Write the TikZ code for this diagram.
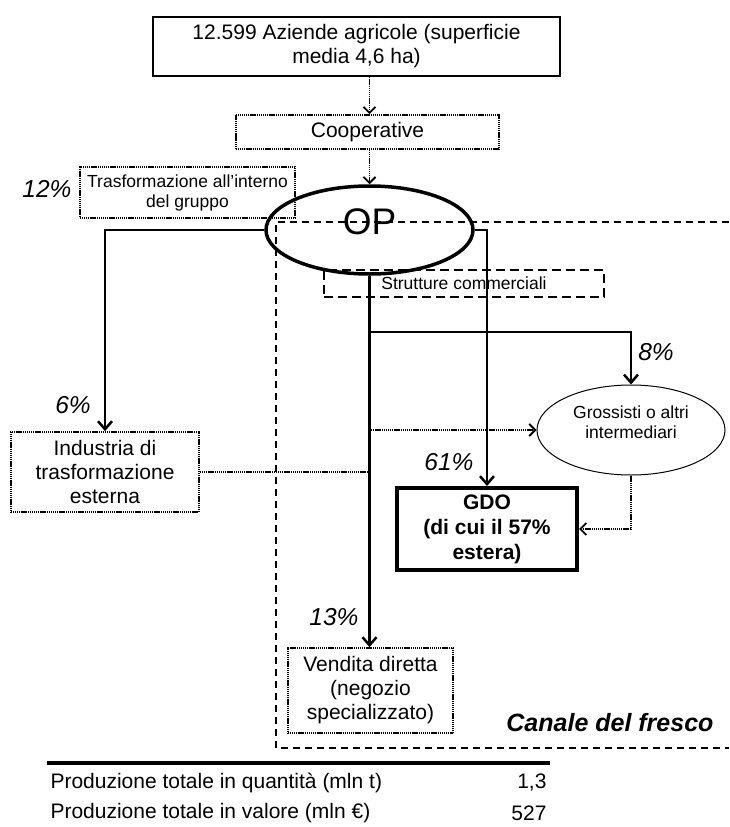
\documentclass[tikz,border=0pt]{standalone}
\usepackage{fontspec}
\setmainfont{Liberation Sans}
\usetikzlibrary{arrows.meta}
\usetikzlibrary{shapes.geometric}

\tikzset{
    txt/.style={font=\fontsize{21}{24}\selectfont, align=center},
    smalltxt/.style={font=\fontsize{17.5}{20}\selectfont, align=center},
    pct/.style={font=\fontsize{24.5}{28}\selectfont\itshape},
    solidbox/.style={draw, line width=1.2pt, inner sep=0pt},
    dotbox/.style={draw, line width=1.8pt, dash pattern=on 1.2pt off 0.7pt, inner sep=0pt},
    dashbox/.style={draw, line width=2.5pt, dash pattern=on 9pt off 5pt, inner sep=0pt},
    flow/.style={line width=2.5pt, -{Straight Barb[length=8pt,width=14pt]}},
    dotflow/.style={line width=1.8pt, dash pattern=on 1.2pt off 0.7pt, -{Straight Barb[length=6pt,width=12pt]}},
    framedash/.style={line width=2pt, dash pattern=on 7pt off 5pt},
}

\begin{document}
\begin{tikzpicture}[x=1pt, y=-1pt]
    \useasboundingbox (0,0) rectangle (729,827);

    % boxes
    \node[solidbox, txt, minimum width=407pt, minimum height=59pt] (azi) at (356.5,46.5)
        {12.599 Aziende agricole (superficie\\media 4,6 ha)};
    \node[dotbox, txt, minimum width=263pt, minimum height=34pt] (coop) at (367.5,132) {Cooperative};
    \node[dotbox, smalltxt, minimum width=215pt, minimum height=51pt] (trasf) at (187.5,192.5)
        {Trasformazione all'interno\\del gruppo};
    \node[draw, ellipse, line width=3.5pt, minimum width=207pt, minimum height=88pt, inner sep=0pt] (op) at (369.5,230) {};
    \node[font=\fontsize{37}{40}\selectfont] (opt) at ([yshift=8pt]op.center) {OP};
    \node[dashbox, smalltxt, minimum width=280pt, minimum height=27pt] (strut) at (464,283.5) {Strutture commerciali};
    \node[dotbox, txt, minimum width=188pt, minimum height=80pt] (ind) at (105,472)
        {Industria di\\trasformazione\\esterna};
    \node[draw, ellipse, line width=1pt, minimum width=188pt, minimum height=90pt, inner sep=0pt] (gro) at (631,430) {};
    \node[smalltxt] (grot) at ([yshift=8pt]gro.center) {Grossisti o altri\\intermediari};
    \node[draw, line width=4pt, inner sep=0pt, minimum width=180pt, minimum height=82pt,
          font=\fontsize{21}{25}\selectfont\bfseries, align=center] (gdo) at (487,529)
        {GDO\\(di cui il 57\%\\estera)};
    \node[dotbox, txt, minimum width=165pt, minimum height=85pt] (ven) at (370.5,690.5)
        {Vendita diretta\\(negozio\\specializzato)};

    % percentages
    \node[pct] (p12) at (47,189) {12\%};
    \node[pct] (p6) at (73,405) {6\%};
    \node[pct] (p8) at (656,352) {8\%};
    \node[pct] (p61) at (449,462) {61\%};
    \node[pct] (p13) at (334,617) {13\%};

    % canale del fresco
    \coordinate (fr1) at (729,222);
    \coordinate (fr2) at (276,222);
    \coordinate (fr3) at (276,748);
    \coordinate (fr4) at (729,748);
    \draw[framedash] (fr1) -- (fr2) -- (fr3) -- (fr4);
    \node[font=\fontsize{25}{28}\selectfont\bfseries\itshape, anchor=east] (canale) at (717,723) {Canale del fresco};

    % flows
    \draw[dotflow] (azi.south -| op.north) -- (coop.north -| op.north);
    \draw[dotflow] (coop.south -| op.north) -- (op.north);
    \draw[flow] (op.west) -| (ind.north);
    \draw[flow] (op.east) -| (gdo.north);
    \draw[flow] (op.south) -- (op.south |- ven.north);
    \coordinate (br) at ([yshift=-56pt]op.south);
    \draw[flow] (br) -| (gro.north);
    \draw[dotflow] (ind.east) -- (ind.east -| op.south) |- (gro.west);
    \draw[dotflow] (gro.south) |- (gdo.east);

    % table
    \coordinate (tl) at (47,763);
    \coordinate (tr) at (550,763);
    \draw[line width=3.5pt] (tl) -- (tr);
    \node[txt, anchor=west] (q1) at (47,783) {Produzione totale in quantità (mln t)};
    \node[txt, anchor=east] (v1) at (550,783) {1,3};
    \node[txt, anchor=west] (q2) at (47,813) {Produzione totale in valore (mln €)};
    \node[txt, anchor=east] (v2) at (550,813) {527};
\end{tikzpicture}
\end{document}
